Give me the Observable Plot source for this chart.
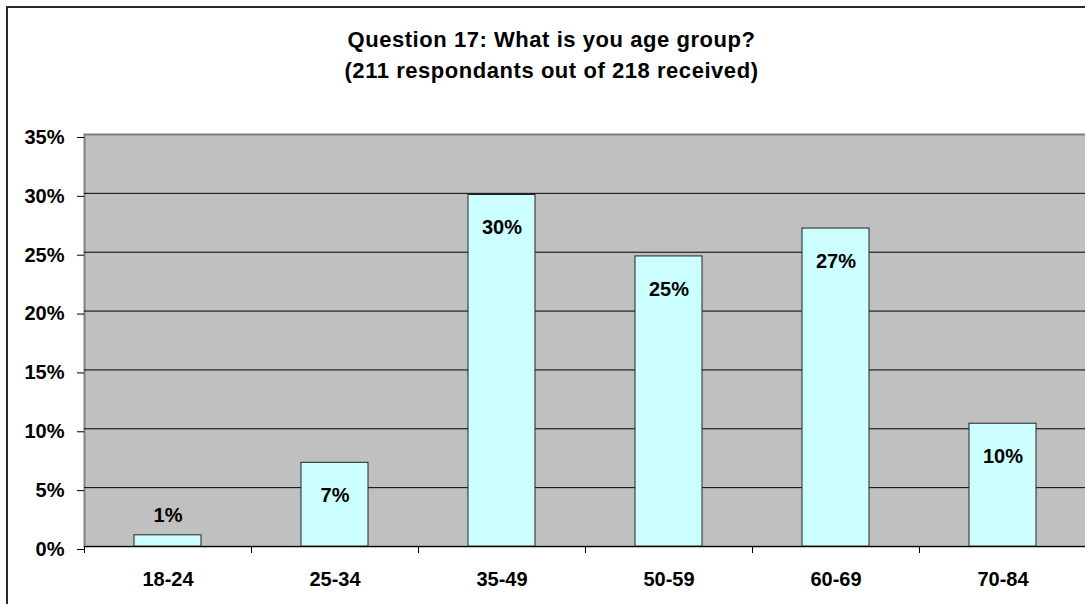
<!DOCTYPE html>
<html><head><meta charset="utf-8">
<script src="https://cdn.jsdelivr.net/npm/d3@7"></script>
<script src="https://cdn.jsdelivr.net/npm/@observablehq/plot@0.6"></script>
<style>
html,body{margin:0;padding:0;background:#fff;overflow:hidden;width:1085px;height:604px}
#wrap{position:relative;width:1085px;height:604px;overflow:hidden;font-family:"Liberation Sans",Arial,sans-serif;}
#frame{position:absolute;left:6px;top:6px;width:1200px;height:700px;border-left:2px solid #2a2a2a;border-top:2px solid #2a2a2a;box-sizing:border-box;pointer-events:none}
#title{position:relative;width:1103px;height:110px;box-sizing:border-box;padding-top:24px;text-align:center;font-weight:bold;font-size:22px;line-height:31px;color:#000;letter-spacing:0.55px}
#chart{position:relative;width:1100px}
#chart svg{display:block;overflow:visible;max-width:none !important}
</style></head>
<body><div id="wrap"><div id="frame"></div>
<div id="title">Question 17: What is you age group?<br>(211 respondants out of 218 received)</div>
<div id="chart"></div></div>
<script>
const categories = ["18-24", "25-34", "35-49", "50-59", "60-69", "70-84"];
const shares = [0.0095, 0.0711, 0.2986, 0.2464, 0.2701, 0.1043];
const labels = ["1%", "7%", "30%", "25%", "27%", "10%"];
const yTicks = [0, 0.05, 0.10, 0.15, 0.20, 0.25, 0.30, 0.35];

const data = categories.map((c, i) => ({cat: c, v: shares[i], label: labels[i]}));

const W = 1100, mL = 84, mR = 14;
const step = (W - mL - mR) / categories.length;
const font = "bold 20px 'Liberation Sans', Arial, sans-serif";

const chart = Plot.plot({
  width: W,
  height: 494,
  marginLeft: mL,
  marginRight: mR,
  marginTop: 24,
  marginBottom: 58,
  style: {font, color: "#000", background: "transparent", overflow: "visible", maxWidth: "none"},
  x: {domain: categories, paddingInner: 0.6, paddingOuter: 0.3, label: null},
  y: {domain: [0, 0.35], label: null},
  marks: [
    Plot.frame({fill: "#c0c0c0", stroke: "#808080", strokeWidth: 2}),
    Plot.gridY(yTicks.filter(t => t > 0 && t < 0.35), {stroke: "#000", strokeOpacity: 1, strokeWidth: 1}),
    Plot.barY(data, {x: "cat", y: "v", fill: "#ccffff", stroke: "#222", strokeWidth: 1}),
    Plot.ruleY([0], {stroke: "#000", strokeWidth: 1}),
    Plot.ruleX(categories, {x: d => d, dx: -step / 2, y1: 0, y2: 0, insetBottom: -7, stroke: "#000"}),
    Plot.text(data.filter(d => d.v >= 0.05), {x: "cat", y: "v", text: "label", dy: 33, fill: "#000", fontWeight: "bold", fontSize: 20}),
    Plot.text(data.filter(d => d.v < 0.05), {x: "cat", y: "v", text: "label", dy: -20, fill: "#000", fontWeight: "bold", fontSize: 20}),
    Plot.axisY({ticks: yTicks, tickFormat: d3.format(".0%"), tickSize: 7, tickPadding: 13, dy: 3, fontWeight: "bold", fontSize: 20, stroke: "#000", label: null}),
    Plot.axisX({tickSize: 0, tickPadding: 25, fontWeight: "bold", fontSize: 20, label: null})
  ]
});
document.getElementById("chart").appendChild(chart);
</script>
</body></html>
